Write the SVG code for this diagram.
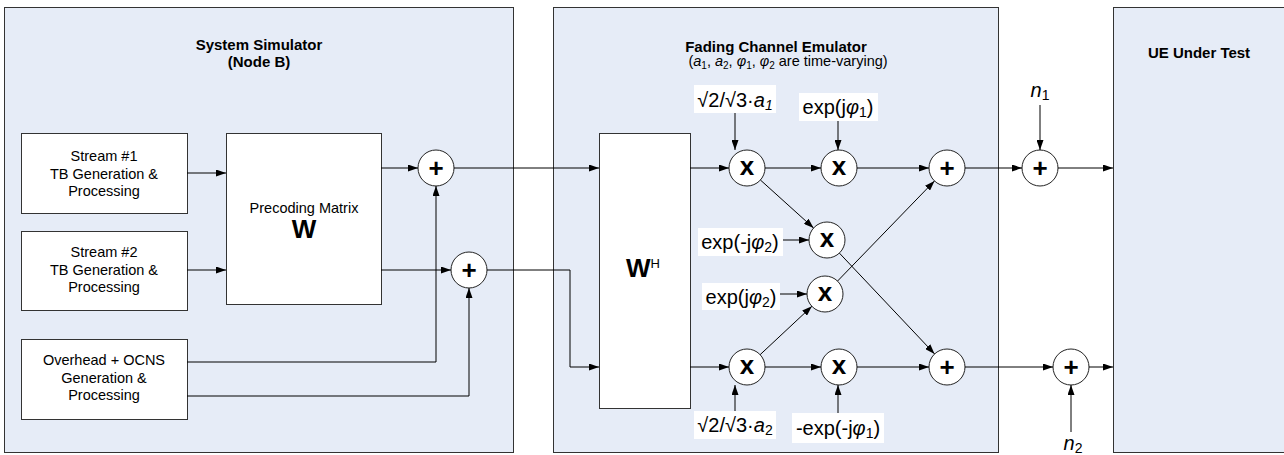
<svg xmlns="http://www.w3.org/2000/svg" width="1284" height="455" viewBox="0 0 1284 455">
<defs>
<marker id="ah" markerWidth="10" markerHeight="7" refX="10" refY="3.5" orient="auto" markerUnits="userSpaceOnUse">
<path d="M0,0 L10,3.5 L0,7 z" fill="#000"/>
</marker>
<style>
.panel{fill:#E6ECF7;stroke:#333;stroke-width:1}
.box{fill:#fff;stroke:#333;stroke-width:1}
.circ{fill:#fff;stroke:#222;stroke-width:1}
.lbg{fill:#fff;stroke:none}
.t{font-family:"Liberation Sans",Arial,sans-serif;font-size:14.5px;fill:#000;text-anchor:middle}
.tb{font-family:"Liberation Sans",Arial,sans-serif;font-size:15px;font-weight:bold;fill:#000;text-anchor:middle}
.f{font-family:"Liberation Sans",Arial,sans-serif;font-size:20px;fill:#000;text-anchor:middle}
.op{font-family:"Liberation Sans",Arial,sans-serif;font-size:26px;font-weight:bold;fill:#000;text-anchor:middle}
.c{fill:none;stroke:#000;stroke-width:1}
.ca{fill:none;stroke:#000;stroke-width:1;marker-end:url(#ah)}
</style>
</defs>
<rect width="1284" height="455" fill="#fff"/>

<g id="system-simulator">
<rect class="panel" x="4.5" y="7.5" width="509" height="445"/>
<text class="tb" x="259" y="50">System Simulator</text>
<text class="tb" x="259" y="67">(Node B)</text>
</g>
<g id="fading-channel-emulator">
<rect class="panel" x="553.5" y="7.5" width="445" height="445"/>
<text class="tb" x="776" y="52">Fading Channel Emulator</text>
<text class="t" x="788" y="66">(<tspan font-style="italic">a</tspan><tspan font-size="10" dy="3">1</tspan><tspan dy="-3">, </tspan><tspan font-style="italic">a</tspan><tspan font-size="10" dy="3">2</tspan><tspan dy="-3">, </tspan><tspan font-style="italic">φ</tspan><tspan font-size="10" dy="3">1</tspan><tspan dy="-3">, </tspan><tspan font-style="italic">φ</tspan><tspan font-size="10" dy="3">2</tspan><tspan dy="-3"> are time-varying)</tspan></text>
</g>
<g id="ue-under-test">
<rect class="panel" x="1113.5" y="7.5" width="175" height="445"/>
<text class="tb" x="1199" y="58">UE Under Test</text>
</g>

<g id="stream1">
<rect class="box" x="21.5" y="133.5" width="166" height="80"/>
<text class="t" x="104" y="161">Stream #1</text>
<text class="t" x="104" y="179">TB Generation &amp;</text>
<text class="t" x="104" y="196">Processing</text>
</g>
<g id="stream2">
<rect class="box" x="21.5" y="231.5" width="166" height="79"/>
<text class="t" x="104" y="257">Stream #2</text>
<text class="t" x="104" y="275">TB Generation &amp;</text>
<text class="t" x="104" y="292">Processing</text>
</g>
<g id="overhead">
<rect class="box" x="21.5" y="339.5" width="166" height="80"/>
<text class="t" x="104" y="365">Overhead + OCNS</text>
<text class="t" x="104" y="383">Generation &amp;</text>
<text class="t" x="104" y="400">Processing</text>
</g>
<g id="precoding">
<rect class="box" x="226.5" y="133.5" width="155" height="171"/>
<text class="t" x="304" y="213">Precoding Matrix</text>
<text class="op" x="304" y="238" font-size="20">W</text>
</g>
<g id="sum-a"><circle class="circ" cx="436" cy="168" r="18"/><text class="op" x="436" y="177">+</text></g>
<g id="sum-b"><circle class="circ" cx="469" cy="270" r="18"/><text class="op" x="469" y="279">+</text></g>

<g id="wh">
<rect class="box" x="599.5" y="133.5" width="91" height="275"/>
<text class="op" x="643" y="277" font-size="22">W<tspan font-size="13" font-weight="normal" dy="-9">H</tspan></text>
</g>
<g id="mul1"><circle class="circ" cx="747" cy="168" r="18"/><text class="op" x="747" y="175">x</text></g>
<g id="mul2"><circle class="circ" cx="839" cy="168" r="18"/><text class="op" x="839" y="175">x</text></g>
<g id="mul3"><circle class="circ" cx="827" cy="240" r="18"/><text class="op" x="827" y="247">x</text></g>
<g id="mul4"><circle class="circ" cx="825" cy="294" r="18"/><text class="op" x="825" y="301">x</text></g>
<g id="mul5"><circle class="circ" cx="747" cy="367" r="18"/><text class="op" x="747" y="374">x</text></g>
<g id="mul6"><circle class="circ" cx="839" cy="367" r="18"/><text class="op" x="839" y="374">x</text></g>
<g id="sum1"><circle class="circ" cx="947" cy="168" r="18"/><text class="op" x="947" y="177">+</text></g>
<g id="sum2"><circle class="circ" cx="947" cy="367" r="18"/><text class="op" x="947" y="376">+</text></g>
<g id="noise1"><circle class="circ" cx="1040" cy="168" r="18"/><text class="op" x="1040" y="177">+</text></g>
<g id="noise2"><circle class="circ" cx="1071" cy="367" r="18"/><text class="op" x="1071" y="376">+</text></g>

<g id="label-a1">
<rect class="lbg" x="694" y="85" width="82" height="28"/>
<text class="f" x="735" y="107">√2/√3·<tspan font-style="italic">a</tspan><tspan font-style="italic" font-size="14" dy="3">1</tspan></text>
</g>
<g id="label-expjphi1">
<rect class="lbg" x="799" y="93" width="79" height="28"/>
<text class="f" x="838" y="114">exp(j<tspan font-style="italic">φ</tspan><tspan font-size="14" dy="3">1</tspan><tspan dy="-3">)</tspan></text>
</g>
<g id="label-expmjphi2">
<rect class="lbg" x="698" y="228" width="85" height="28"/>
<text class="f" x="740" y="249">exp(-j<tspan font-style="italic">φ</tspan><tspan font-size="14" dy="3">2</tspan><tspan dy="-3">)</tspan></text>
</g>
<g id="label-expjphi2">
<rect class="lbg" x="702" y="283" width="78" height="27"/>
<text class="f" x="741" y="304">exp(j<tspan font-style="italic">φ</tspan><tspan font-size="14" dy="3">2</tspan><tspan dy="-3">)</tspan></text>
</g>
<g id="label-a2">
<rect class="lbg" x="694" y="411" width="82" height="28"/>
<text class="f" x="735" y="432">√2/√3·<tspan font-style="italic">a</tspan><tspan font-size="14" dy="3">2</tspan></text>
</g>
<g id="label-mexpmjphi1">
<rect class="lbg" x="792" y="413" width="92" height="30"/>
<text class="f" x="838" y="435">-exp(-j<tspan font-style="italic">φ</tspan><tspan font-size="14" dy="3">1</tspan><tspan dy="-3">)</tspan></text>
</g>
<g id="label-n1"><text class="f" x="1040" y="97"><tspan font-style="italic">n</tspan><tspan font-size="14" dy="3">1</tspan></text></g>
<g id="label-n2"><text class="f" x="1073" y="450"><tspan font-style="italic">n</tspan><tspan font-size="14" dy="3">2</tspan></text></g>

<g id="connectors">
<path class="ca" d="M187,173 H226"/>
<path class="ca" d="M187,270 H226"/>
<path class="ca" d="M381,168 H418"/>
<path class="ca" d="M381,270 H451"/>
<path class="ca" d="M187,362 H436 V186"/>
<path class="ca" d="M187,396 H469 V288"/>
<path class="ca" d="M454,168 H599"/>
<path class="ca" d="M487,270 H570 V367 H599"/>
<path class="ca" d="M690,168 H729"/>
<path class="ca" d="M690,367 H729"/>
<path class="ca" d="M765,168 H821"/>
<path class="ca" d="M857,168 H929"/>
<path class="ca" d="M765,367 H821"/>
<path class="ca" d="M857,367 H929"/>
<path class="ca" d="M760.4,180 L813.6,228"/>
<path class="ca" d="M760.1,354.7 L811.9,306.3"/>
<path class="ca" d="M837.5,281.1 L934.5,180.9"/>
<path class="ca" d="M839.4,253.1 L934.6,353.9"/>
<path class="ca" d="M735,113 V150"/>
<path class="ca" d="M838,121 V150"/>
<path class="ca" d="M783,240 H809"/>
<path class="ca" d="M780,294 H807"/>
<path class="ca" d="M735,411 V385"/>
<path class="ca" d="M838,413 V385"/>
<path class="ca" d="M965,168 H1022"/>
<path class="ca" d="M1058,168 H1113"/>
<path class="ca" d="M965,367 H1053"/>
<path class="ca" d="M1089,367 H1113"/>
<path class="ca" d="M1040,105 V150"/>
<path class="ca" d="M1071,432 V385"/>
</g>
</svg>
